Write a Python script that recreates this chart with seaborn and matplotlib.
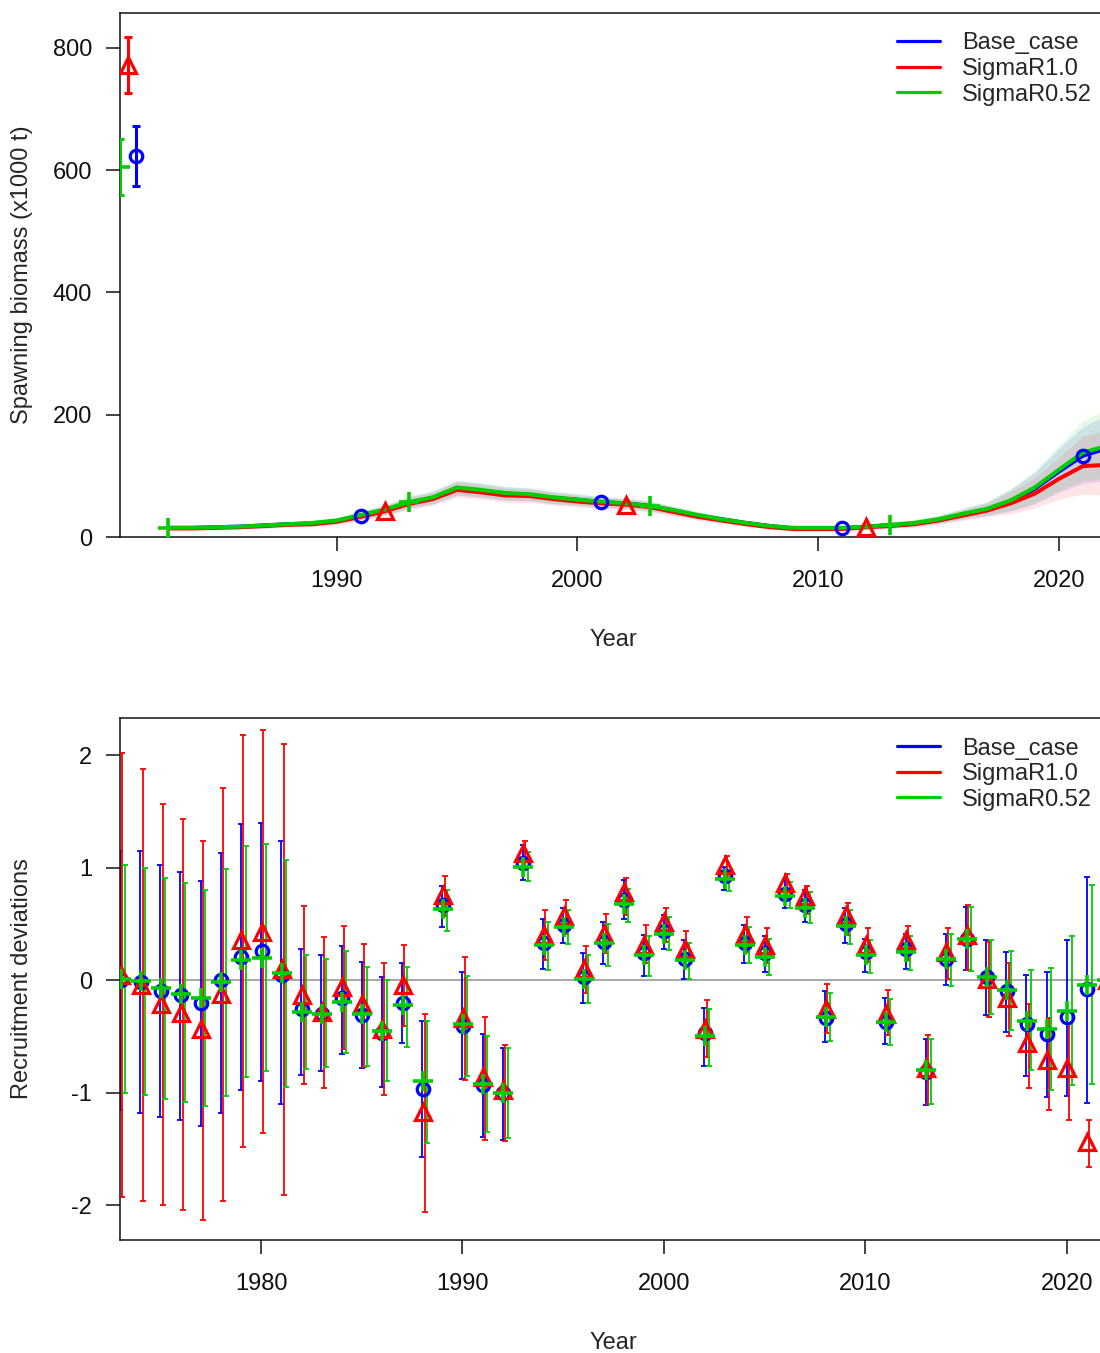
import numpy as np
import pandas as pd
import matplotlib
matplotlib.use("Agg")
import matplotlib.pyplot as plt
import seaborn as sns
from matplotlib.lines import Line2D

sns.set_theme(style="ticks")
plt.rcParams['font.family'] = ['Liberation Sans', 'DejaVu Sans']
plt.rcParams['axes.unicode_minus'] = False

models = ["Base_case", "SigmaR1.0", "SigmaR0.52"]
colors = ["#0000FF", "#FF0000", "#00CD00"]
markers = ["o", "^", "+"]

# ---------------- Spawning biomass ----------------
sb_years = list(range(1983, 2023))
sb_base = [15, 15, 16, 17, 19, 21, 22, 26, 35, 44, 56, 64, 80, 76, 71, 69, 64, 61, 57, 55,
           51, 43, 35, 29, 23, 18, 14, 14, 14, 17, 19, 22, 28, 37, 45, 59, 79, 107, 133, 145]
sb_base_lo = [12, 12, 13, 14, 15, 17, 18, 21, 29, 36, 47, 54, 68, 65, 60, 59, 54, 52, 48, 47,
              43, 36, 29, 24, 19, 15, 11, 11, 11, 13, 15, 17, 22, 29, 35, 42, 54, 73, 88, 92]
sb_base_hi = [18, 18, 19, 20, 23, 25, 27, 31, 42, 52, 66, 75, 92, 88, 82, 80, 74, 70, 66, 63,
              59, 50, 41, 34, 27, 21, 17, 17, 17, 21, 24, 28, 35, 46, 57, 78, 106, 145, 180, 200]
sb_r10 = [14, 14, 15, 16, 18, 20, 21, 25, 33, 42, 54, 62, 77, 73, 68, 67, 62, 58, 55, 53,
          49, 41, 33, 27, 21, 16, 13, 13, 13, 16, 18, 21, 27, 35, 43, 55, 71, 95, 116, 118]
sb_r10_lo = [11, 11, 12, 13, 14, 16, 17, 20, 27, 34, 45, 52, 65, 62, 57, 57, 52, 49, 46, 45,
             41, 34, 27, 22, 17, 13, 10, 10, 10, 12, 14, 16, 21, 27, 33, 38, 47, 62, 70, 68]
sb_r10_hi = [17, 17, 18, 19, 22, 24, 26, 30, 40, 50, 64, 73, 90, 85, 80, 78, 72, 68, 64, 62,
             57, 48, 39, 32, 25, 20, 16, 16, 16, 20, 23, 27, 34, 44, 55, 74, 97, 130, 165, 175]
sb_r052 = [15, 15, 16, 17, 19, 21, 23, 27, 36, 45, 57, 65, 81, 77, 72, 70, 65, 61, 58, 55,
           51, 44, 36, 29, 23, 18, 15, 15, 15, 17, 20, 23, 29, 38, 46, 60, 81, 110, 138, 149]
sb_r052_lo = [12, 12, 13, 14, 15, 17, 19, 22, 30, 37, 48, 55, 69, 66, 61, 60, 55, 52, 49, 47,
              43, 37, 30, 24, 19, 15, 12, 12, 12, 13, 16, 18, 23, 30, 36, 44, 56, 76, 92, 96]
sb_r052_hi = [18, 18, 19, 20, 23, 25, 27, 32, 43, 53, 67, 76, 93, 89, 83, 81, 75, 71, 67, 64,
              59, 51, 42, 35, 27, 21, 18, 18, 18, 21, 25, 29, 36, 47, 58, 79, 108, 150, 190, 210]
sb_marker_years = [[1991, 2001, 2011, 2021], [1992, 2002, 2012], [1983, 1993, 2003, 2013]]

# virgin spawning biomass (value, high, low) per model
sb_virgin = [623, 672, 574]
sb_virgin_r10 = [772, 817, 726]
sb_virgin_r052 = [605, 651, 560]
virgin_x = [1981.66, 1981.33, 1981.02]

# ---------------- Recruitment deviations ----------------
rd_years = list(range(1973, 2022))
rd_base = [0.00, -0.02, -0.10, -0.13, -0.20, 0.00, 0.21, 0.26, 0.05, -0.26, -0.30, -0.16, -0.31, -0.47,
           -0.20, -0.97, 0.67, -0.41, -0.93, -1.00, 1.04, 0.33, 0.49, 0.03, 0.34, 0.71, 0.24, 0.44,
           0.19, -0.47, 0.93, 0.33, 0.24, 0.77, 0.67, -0.34, 0.50, 0.25, -0.37, 0.28, -0.82, 0.19,
           0.37, 0.03, -0.10, -0.39, -0.48, -0.33, -0.08]
rd_base_lo = [-1.15, -1.18, -1.22, -1.24, -1.30, -1.18, -0.98, -0.90, -1.10, -0.84, -0.81, -0.66, -0.78, -0.95,
              -0.56, -1.57, 0.47, -0.88, -1.39, -1.42, 0.89, 0.10, 0.33, -0.20, 0.14, 0.54, 0.04, 0.28,
              0.01, -0.76, 0.80, 0.15, 0.07, 0.64, 0.52, -0.55, 0.33, 0.07, -0.57, 0.10, -1.11, -0.04,
              0.09, -0.31, -0.46, -0.85, -1.04, -1.03, -1.09]
rd_base_hi = [1.15, 1.15, 1.02, 0.96, 0.88, 1.13, 1.39, 1.40, 1.24, 0.28, 0.22, 0.30, 0.16, 0.03,
              0.15, -0.36, 0.84, 0.07, -0.48, -0.60, 1.20, 0.54, 0.64, 0.24, 0.52, 0.89, 0.40, 0.58,
              0.36, -0.25, 1.01, 0.49, 0.39, 0.90, 0.80, -0.10, 0.64, 0.37, -0.16, 0.41, -0.52, 0.41,
              0.65, 0.36, 0.25, 0.05, 0.07, 0.36, 0.92]
rd_r10 = [0.05, -0.04, -0.21, -0.29, -0.43, -0.12, 0.36, 0.43, 0.10, -0.13, -0.28, -0.06, -0.21, -0.43,
          -0.04, -1.17, 0.76, -0.34, -0.86, -0.98, 1.13, 0.40, 0.57, 0.10, 0.41, 0.78, 0.31, 0.52,
          0.28, -0.43, 1.02, 0.41, 0.31, 0.86, 0.75, -0.26, 0.58, 0.31, -0.30, 0.36, -0.78, 0.25,
          0.40, 0.01, -0.16, -0.56, -0.71, -0.78, -1.44]
rd_r10_lo = [-1.93, -1.96, -2.00, -2.04, -2.13, -1.96, -1.48, -1.36, -1.91, -0.92, -0.96, -0.61, -0.77, -1.02,
             -0.41, -2.06, 0.57, -0.89, -1.42, -1.43, 1.01, 0.18, 0.41, -0.11, 0.24, 0.58, 0.15, 0.34,
             0.12, -0.68, 0.89, 0.25, 0.15, 0.71, 0.59, -0.47, 0.40, 0.16, -0.49, 0.18, -1.10, 0.01,
             0.09, -0.33, -0.50, -0.96, -1.15, -1.24, -1.66]
rd_r10_hi = [2.02, 1.88, 1.57, 1.43, 1.24, 1.71, 2.18, 2.22, 2.10, 0.66, 0.38, 0.48, 0.32, 0.15,
             0.31, -0.30, 0.93, 0.21, -0.33, -0.58, 1.24, 0.62, 0.71, 0.30, 0.59, 0.91, 0.49, 0.64,
             0.44, -0.18, 1.10, 0.56, 0.46, 0.94, 0.84, -0.03, 0.69, 0.46, -0.09, 0.48, -0.49, 0.46,
             0.67, 0.34, 0.15, -0.21, -0.34, -0.39, -1.24]
rd_r052 = [0.01, -0.01, -0.07, -0.12, -0.16, -0.02, 0.18, 0.20, 0.06, -0.28, -0.30, -0.19, -0.30, -0.45,
           -0.22, -0.90, 0.63, -0.39, -0.92, -1.00, 1.01, 0.31, 0.47, 0.01, 0.33, 0.68, 0.22, 0.41,
           0.18, -0.50, 0.90, 0.31, 0.21, 0.75, 0.64, -0.33, 0.48, 0.22, -0.37, 0.25, -0.80, 0.19,
           0.37, 0.03, -0.09, -0.36, -0.43, -0.27, -0.04]
rd_r052_lo = [-1.00, -1.02, -1.06, -1.08, -1.12, -1.03, -0.86, -0.81, -0.95, -0.79, -0.77, -0.65, -0.76, -0.90,
              -0.59, -1.45, 0.44, -0.85, -1.35, -1.40, 0.88, 0.09, 0.32, -0.20, 0.13, 0.52, 0.04, 0.27,
              0.01, -0.76, 0.79, 0.15, 0.05, 0.64, 0.51, -0.54, 0.32, 0.06, -0.58, 0.09, -1.10, -0.05,
              0.08, -0.30, -0.44, -0.80, -0.98, -0.93, -0.92]
rd_r052_hi = [1.02, 1.00, 0.91, 0.86, 0.80, 0.99, 1.19, 1.21, 1.07, 0.22, 0.19, 0.26, 0.12, 0.00,
              0.12, -0.36, 0.80, 0.04, -0.50, -0.60, 1.14, 0.52, 0.62, 0.22, 0.50, 0.81, 0.39, 0.56,
              0.33, -0.26, 0.98, 0.47, 0.37, 0.87, 0.78, -0.11, 0.62, 0.36, -0.17, 0.39, -0.52, 0.41,
              0.65, 0.36, 0.26, 0.09, 0.11, 0.39, 0.85]
rd_fore_year = 2022
rd_fore = [0.0, 0.0, 0.0]

# ---------------- assemble ----------------
sb = pd.DataFrame({"Year": sb_years * 3,
                   "Model": sum([[m] * len(sb_years) for m in models], []),
                   "SB": sb_base + sb_r10 + sb_r052,
                   "lo": sb_base_lo + sb_r10_lo + sb_r052_lo,
                   "hi": sb_base_hi + sb_r10_hi + sb_r052_hi})
rd = pd.DataFrame({"Year": rd_years * 3,
                   "Model": sum([[m] * len(rd_years) for m in models], []),
                   "dev": rd_base + rd_r10 + rd_r052,
                   "lo": rd_base_lo + rd_r10_lo + rd_r052_lo,
                   "hi": rd_base_hi + rd_r10_hi + rd_r052_hi})
virgins = [sb_virgin, sb_virgin_r10, sb_virgin_r052]

W, H = 1100, 1353
fig = plt.figure(figsize=(W / 100, H / 100), dpi=100)
fig.patch.set_facecolor("white")
xr = 1107
ax1 = fig.add_axes([120 / W, 1 - 537 / H, (xr - 120) / W, (537 - 13) / H])
ax2 = fig.add_axes([120 / W, 1 - 1240 / H, (xr - 120) / W, (1240 - 718) / H])

FS = 17


def draw_marker(ax, xs, ys, i, z):
    if markers[i] == "+":
        ax.plot(xs, ys, ls="none", marker="+", ms=14, mew=2.6, color=colors[i], zorder=z)
    else:
        ax.plot(xs, ys, ls="none", marker=markers[i], ms=9 if i == 0 else 12,
                mew=2.3, mfc="none", mec=colors[i], zorder=z)


# top panel
for i, m in enumerate(models):
    d = sb[sb.Model == m]
    ax1.fill_between(d.Year, d.lo, d.hi, color=colors[i], alpha=0.1, lw=0, zorder=1)
for i, m in enumerate(models):
    d = sb[sb.Model == m]
    sns.lineplot(x=d.Year, y=d.SB, color=colors[i], lw=2.9, ax=ax1, estimator=None,
                 legend=False, zorder=3 + i)
    dm = d[d.Year.isin(sb_marker_years[i])]
    draw_marker(ax1, dm.Year, dm.SB, i, 6)
    v = virgins[i]
    ax1.errorbar([virgin_x[i]], [v[0]], yerr=[[v[0] - v[2]], [v[1] - v[0]]], fmt="none",
                 ecolor=colors[i], elinewidth=2.2, capsize=3, capthick=2.2, zorder=5)
    draw_marker(ax1, [virgin_x[i]], [v[0]], i, 6)

ax1.set_xlim(1981, 2022)
ax1.set_ylim(0, 857)
ax1.set_xticks([1990, 2000, 2010, 2020])
ax1.set_yticks([0, 200, 400, 600, 800])
ax1.set_xlabel("Year", fontsize=FS)
ax1.set_ylabel("Spawning biomass (x1000 t)", fontsize=FS)

# bottom panel
ax2.axhline(0, color="#a0a0a0", lw=1.3, zorder=1)
bar_off = [0.0, 0.12, 0.24]
for i, m in enumerate(models):
    d = rd[rd.Model == m]
    ax2.errorbar(d.Year + bar_off[i], d.dev, yerr=[d.dev - d.lo, d.hi - d.dev], fmt="none",
                 ecolor=colors[i], elinewidth=1.3, capsize=2.2, capthick=1.3, zorder=2 + i)
for i, m in enumerate(models):
    d = rd[rd.Model == m]
    xs = list(d.Year + 0.03) + [rd_fore_year]
    ys = list(d.dev) + [rd_fore[i]]
    draw_marker(ax2, xs, ys, i, 6 + i)
ax2.set_xlim(1973, 2022)
ax2.set_ylim(-2.31, 2.33)
ax2.set_xticks([1980, 1990, 2000, 2010, 2020])
ax2.set_yticks([-2, -1, 0, 1, 2])
ax2.set_xlabel("Year", fontsize=FS)
ax2.set_ylabel("Recruitment deviations", fontsize=FS)

for ax in (ax1, ax2):
    ax.set_facecolor("white")
    for s in ax.spines.values():
        s.set_visible(True)
        s.set_color("#111111")
        s.set_linewidth(1.1)
    ax.tick_params(axis="both", direction="out", length=10, width=1.1, labelsize=FS,
                   colors="#111111")
    ax.tick_params(axis="x", pad=14)
    ax.tick_params(axis="y", pad=10)
    ax.xaxis.set_label_coords(0.5, -0.176)
    ax.yaxis.set_label_coords(-0.088, 0.5)

# legends (lines only, no frame)
for ax, ytop in ((ax1, 32.5), (ax2, 737.5)):
    handles = [Line2D([], [], color=c, lw=2.3) for c in colors]
    ax.legend(handles, models, loc="upper left", bbox_to_anchor=(897 / W, 1 - ytop / H),
              bbox_transform=fig.transFigure, frameon=False, fontsize=FS, borderpad=0,
              borderaxespad=0, handlelength=1.83, handletextpad=0.93, labelspacing=0.15)

fig.savefig("out.png", dpi=100)
